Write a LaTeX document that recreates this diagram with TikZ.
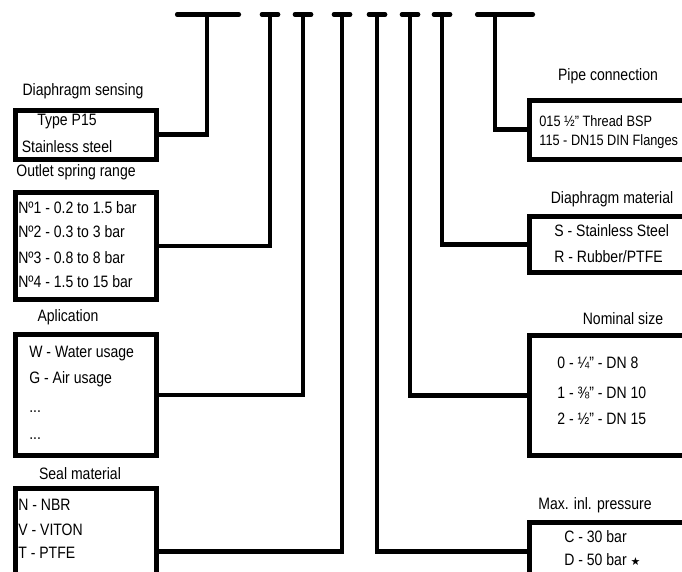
\documentclass[tikz,border=0pt]{standalone}
\usepackage{fontspec}
\setmainfont[FakeStretch=0.85]{Liberation Sans}
\newfontfamily\dgsym{DejaVu Sans}
\newcommand\dgfont{\fontsize{16.5}{18}\selectfont}
\newcommand\dgsmall{\fontsize{15}{17}\selectfont}
\begin{document}
\begin{tikzpicture}[x=1pt,y=-1pt,line width=4.7pt,line join=miter,
  box/.style={draw,rectangle,inner sep=0pt,anchor=north west},
  txt/.style={anchor=base west,inner sep=0pt,font=\dgfont},
  lbl/.style={anchor=base,inner sep=0pt,font=\dgfont},
  bar/.style={line cap=round},
  wire/.style={line cap=butt}]
\useasboundingbox (0,0) rectangle (682,572);
\clip (0,0) rectangle (682,572);
% stem tops
\coordinate (b1) at (207,14.5);
\coordinate (b2) at (270,14.5);
\coordinate (b3) at (303,14.5);
\coordinate (b4) at (342,14.5);
\coordinate (b5) at (377,14.5);
\coordinate (b6) at (410,14.5);
\coordinate (b7) at (442,14.5);
\coordinate (b8) at (495,14.5);
% bars
\draw[bar] ([xshift=-29.75pt]b1) -- ([xshift=31.75pt]b1);
\foreach \b in {b2,b3,b4,b5,b6,b7}{\draw[bar] ([xshift=-8pt]\b) -- ([xshift=8pt]\b);}
\draw[bar] ([xshift=-17.75pt]b8) -- ([xshift=37.75pt]b8);
% left boxes
\node[box,minimum width=141pt,minimum height=49pt] (boxA) at (13,108) {};
\node[box,minimum width=141pt,minimum height=107pt] (boxB) at (13,190) {};
\node[box,minimum width=141pt,minimum height=121pt] (boxC) at (13,332) {};
\node[box,minimum width=141pt,minimum height=126pt] (boxD) at (13,486) {};
% right boxes
\node[box,minimum width=163pt,minimum height=59pt] (boxE) at (527,98) {};
\node[box,minimum width=163pt,minimum height=56pt] (boxF) at (527,214) {};
\node[box,minimum width=163pt,minimum height=120pt] (boxG) at (527,333) {};
\node[box,minimum width=163pt,minimum height=58pt] (boxH) at (527,520) {};
% connectors
\draw[wire] (b1) |- (boxA.east);
\draw[wire] (b2) |- (boxB.east);
\draw[wire] (b3) |- (boxC.east);
\draw[wire] (b4) |- (boxD.east);
\draw[wire] (b5) |- (boxH.west);
\draw[wire] (b6) |- (boxG.west);
\draw[wire] (b7) |- (boxF.west);
\draw[wire] (b8) |- (boxE.west);
% labels
\node[lbl] (lA) at (83,96) {Diaphragm sensing};
\node[lbl] (lB) at (76,177) {Outlet spring range};
\node[lbl] (lC) at (68,321) {Aplication};
\node[lbl] (lD) at (80,479) {Seal material};
\node[lbl] (lE) at (608,81) {Pipe connection};
\node[lbl] (lF) at (612,203) {Diaphragm material};
\node[lbl] (lG) at (623,324) {Nominal size};
\node[lbl] (lH) at (595,509) {Max. inl. pressure};
% box texts
\node[lbl] (tA1) at (67,126) {Type P15};
\node[lbl] (tA2) at (67,153) {Stainless steel};
\node[txt] (tB1) at (16,213) {Nº1 - 0.2 to 1.5 bar};
\node[txt] (tB2) at (16,237) {Nº2 - 0.3 to 3 bar};
\node[txt] (tB3) at (16,263) {Nº3 - 0.8 to 8 bar};
\node[txt] (tB4) at (16,287) {Nº4 - 1.5 to 15 bar};
\node[txt] (tC1) at (27,357) {W - Water usage};
\node[txt] (tC2) at (27,383) {G - Air usage};
\node[txt] (tC3) at (27,412) {...};
\node[txt] (tC4) at (27,439) {...};
\node[txt] (tD1) at (16,510) {N - NBR};
\node[txt] (tD2) at (16,535) {V - VITON};
\node[txt] (tD3) at (16,558) {T - PTFE};
\node[txt,font=\dgsmall] (tE1) at (537,127) {015 ½" Thread BSP};
\node[txt,font=\dgsmall] (tE2) at (537,146) {115 - DN15 DIN Flanges};
\node[txt] (tF1) at (552,236) {S - Stainless Steel};
\node[txt] (tF2) at (552,262) {R - Rubber/PTFE};
\node[txt] (tG1) at (555,368) {0 - ¼" - DN 8};
\node[txt] (tG2) at (555,398) {1 - ⅜" - DN 10};
\node[txt] (tG3) at (555,424) {2 - ½" - DN 15};
\node[txt] (tH1) at (562,542) {C - 30 bar};
\node[txt] (tH2) at (562,565) {D - 50 bar {\dgsym\fontsize{11}{11}\selectfont ★}};
\end{tikzpicture}
\end{document}
